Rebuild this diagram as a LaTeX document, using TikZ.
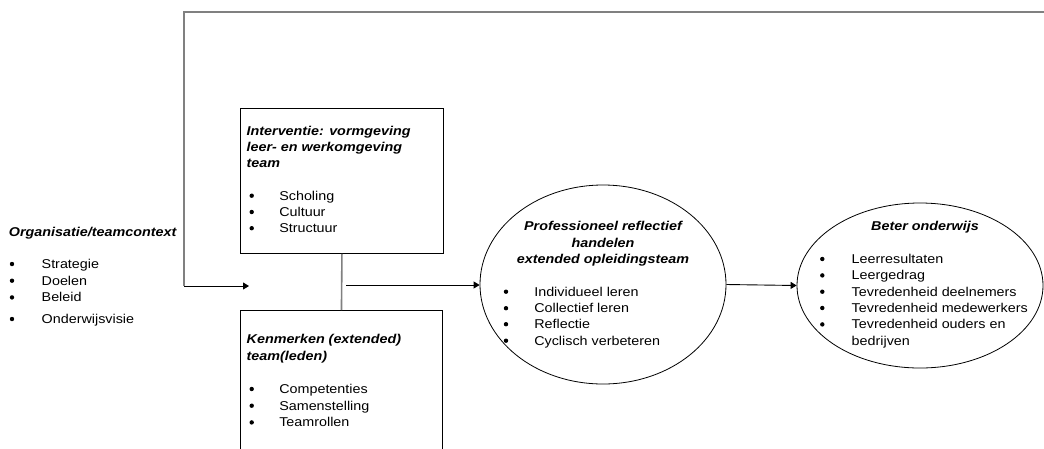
\documentclass[tikz,border=0pt]{standalone}
\usepackage{fontspec}
\setmainfont{Liberation Sans}[FakeStretch=1.12]
\usetikzlibrary{shapes.geometric,arrows.meta}
\begin{document}
\begin{tikzpicture}[x=1pt,y=-1pt,
  font=\fontsize{12.8}{16.6}\selectfont,
  txt/.style={inner sep=0pt,outer sep=0pt,anchor=base west},
  ctxt/.style={inner sep=0pt,outer sep=0pt,anchor=base,font=\fontsize{12.8}{16.6}\selectfont\bfseries\itshape},
  ttl/.style={txt,font=\fontsize{12.8}{16.6}\selectfont\bfseries\itshape},
  bul/.style={circle,fill=black,inner sep=0pt,outer sep=0pt,minimum size=4.4pt,yshift=4.3pt},
  boxst/.style={draw=black,line width=0.9pt,rectangle,inner sep=0pt,anchor=north west},
  ell/.style={draw=black,line width=0.8pt,ellipse,inner sep=0pt},
  arr/.style={draw=black,line width=0.9pt,-{Triangle[length=6pt,width=7pt]}},
  fb/.style={draw=black!50,line width=1.6pt}]
\useasboundingbox (0,0) rectangle (1044,448);
\clip (0,0) rectangle (1044,448);

% boxes
\node[boxst,minimum width=203pt,minimum height=145pt] (b1) at (240,108) {};
\node[boxst,minimum width=202pt,minimum height=160pt] (b2) at (240,310) {};
% ellipses
\node[ell,minimum width=246pt,minimum height=199pt] (e1) at (603,284.5) {};
\node[ell,minimum width=246pt,minimum height=165pt] (e2) at (920,285.5) {};

% connectors
\draw[fb] (b1.south) -- (b2.north);
\coordinate (fbR) at (1050,12);
\coordinate (fbL) at (184,12);
\coordinate (fbB) at (184,286);
\coordinate (fbE) at (249,286);
\draw[fb] (fbR) -- (fbL) -- (fbB);
\draw[arr] (fbB) -- (fbE);
\coordinate (mS) at (346,285);
\draw[arr] (mS) -- (mS -| e1.west);
\draw[arr] (e1.east) -- (e2.west);

% left block
\node[ttl] (t0) at (9,236) {Organisatie/teamcontext};
\foreach \y/\t [count=\i] in {268.3/Strategie,285/Doelen,301.7/Beleid,323.3/Onderwijsvisie}{
  \node[bul] (lb\i) at (12,\y) {};
  \node[txt] (lt\i) at (41.7,\y) {\t};
}

% box 1 text
\node[ttl] (t1a) at (246.7,135) {Interventie: vormgeving};
\node[ttl] (t1b) at (246.7,151.5) {leer- en werkomgeving};
\node[ttl] (t1c) at (246.7,167.8) {team};
\foreach \y/\t [count=\i] in {200/Scholing,216.3/Cultuur,232.5/Structuur}{
  \node[bul] (ab\i) at (251.7,\y) {};
  \node[txt] (at\i) at (279.3,\y) {\t};
}

% box 2 text
\node[ttl] (t2a) at (246.7,343) {Kenmerken (extended)};
\node[ttl] (t2b) at (246.7,360) {team(leden)};
\foreach \y/\t [count=\i] in {393.3/Competenties,410/Samenstelling,426.7/Teamrollen}{
  \node[bul] (kb\i) at (251.7,\y) {};
  \node[txt] (kt\i) at (279.3,\y) {\t};
}

% ellipse 1 text
\node[ctxt] (t3a) at (603,230.7) {Professioneel reflectief};
\node[ctxt] (t3b) at (603,247) {handelen};
\node[ctxt] (t3c) at (603,263.3) {extended opleidingsteam};
\foreach \y/\t [count=\i] in {296/Individueel leren,312.5/Collectief leren,328.5/Reflectie,345/Cyclisch verbeteren}{
  \node[bul] (pb\i) at (506,\y) {};
  \node[txt] (pt\i) at (534.3,\y) {\t};
}

% ellipse 2 text
\node[ctxt] (t4a) at (925,230.7) {Beter onderwijs};
\foreach \y/\t [count=\i] in {263.3/Leerresultaten,279.7/Leergedrag,296/Tevredenheid deelnemers,312.3/Tevredenheid medewerkers,328.7/Tevredenheid ouders en}{
  \node[bul] (ob\i) at (822.3,\y) {};
  \node[txt] (ot\i) at (851.7,\y) {\t};
}
\node[txt] (ot6) at (851.7,345) {bedrijven};
\end{tikzpicture}
\end{document}
